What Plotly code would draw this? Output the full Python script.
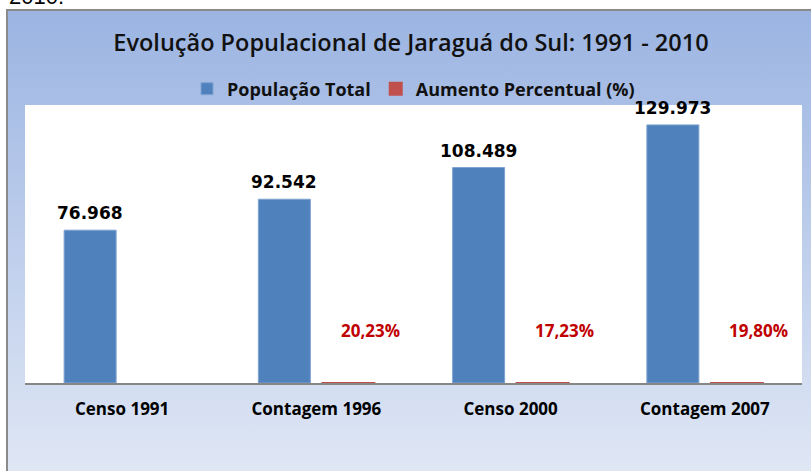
import base64
import plotly.graph_objects as go

# ---- data ----
categories = ["Censo 1991", "Contagem 1996", "Censo 2000", "Contagem 2007"]
populacao_total = [76968, 92542, 108489, 129973]
aumento_percentual = [None, 20.23, 17.23, 19.80]
series_names = ["População Total", "Aumento Percentual (%)"]
title_text = "Evolução Populacional de Jaraguá do Sul: 1991 - 2010"
caption_above = "2010."

W, H = 811, 471
ML, MR, MT, MB = 25, 9, 105, 88
PW, PH = W - ML - MR, H - MT - MB


def px_x(x):
    return (x - ML) / PW


def px_y(y):
    return (H - MB - y) / PH


BLUE = "#4f81bd"
RED = "#c0504d"

fig = go.Figure()
fig.add_trace(go.Bar(
    name=series_names[0], x=categories, y=populacao_total,
    marker=dict(color=BLUE, line=dict(color="#7fa3d1", width=1)),
))
fig.add_trace(go.Bar(
    name=series_names[1], x=categories, y=aumento_percentual,
    marker=dict(color=RED, line=dict(color=RED, width=2)),
))

# blue value labels
for cat, v in zip(categories, populacao_total):
    fig.add_annotation(
        x=cat, y=v, xref="x", yref="y", text=f"{v:,}".replace(",", "."),
        showarrow=False, xshift=-32, yshift=17, yanchor="middle",
        font=dict(family="DejaVu Sans", size=17, color="#000000", weight="bold"),
    )

# red percentage labels
for cat, v in zip(categories, aumento_percentual):
    if v is None:
        continue
    fig.add_annotation(
        x=cat, y=0, xref="x", yref="y", text=f"{v:.2f}".replace(".", ",") + "%",
        showarrow=False, xshift=54, yshift=53, yanchor="middle",
        font=dict(family="Open Sans", size=17, color="#c00000", weight="bold"),
    )

# caption fragment above the chart frame
fig.add_annotation(
    x=px_x(7), y=px_y(-4), xref="paper", yref="paper", text=caption_above,
    showarrow=False, xanchor="left", yanchor="middle",
    font=dict(family="Liberation Sans", size=22, color="#000000"),
)

# gradient chart background
svg = ('<svg xmlns="http://www.w3.org/2000/svg" width="100" height="100" preserveAspectRatio="none">'
       '<defs><linearGradient id="g" x1="0" y1="0" x2="0" y2="1">'
       '<stop offset="0" stop-color="#9bb4e2"/><stop offset="1" stop-color="#e1e8f5"/>'
       '</linearGradient></defs><rect width="100" height="100" fill="url(#g)"/></svg>')
src = "data:image/svg+xml;base64," + base64.b64encode(svg.encode()).decode()
fig.add_layout_image(
    source=src, xref="paper", yref="paper", x=px_x(7), y=px_y(10),
    sizex=(W + 10 - 7) / PW, sizey=(H + 10 - 10) / PH,
    xanchor="left", yanchor="top", sizing="stretch", layer="below",
)
# white plot area
fig.add_shape(type="rect", xref="paper", yref="paper", x0=0, x1=1, y0=0, y1=1,
              fillcolor="white", line=dict(width=0), layer="below")
# chart frame
fig.add_shape(type="rect", xref="paper", yref="paper",
              x0=px_x(7), x1=px_x(W + 20), y0=px_y(10), y1=px_y(H + 20),
              fillcolor="rgba(0,0,0,0)", line=dict(color="#8a8a8a", width=2), layer="above")

fig.update_layout(
    width=W, height=H,
    margin=dict(l=ML, r=MR, t=MT, b=MB, pad=0),
    paper_bgcolor="white", plot_bgcolor="white",
    barmode="group", bargap=0.341, bargroupgap=0.1875,
    title=dict(text=title_text, x=411 / W, xref="container", xanchor="center",
               y=1 - 43 / H, yref="container", yanchor="middle",
               font=dict(family="Open Sans", size=23.5, color="#111111", weight=600)),
    legend=dict(orientation="h", x=0.5, xanchor="center", y=px_y(89), yanchor="middle",
                bgcolor="rgba(0,0,0,0)",
                font=dict(family="Open Sans", size=18, color="#111111", weight="bold"),
                traceorder="normal"),
    xaxis=dict(showline=True, linecolor="#868686", linewidth=1.5, showgrid=False,
               ticks="", ticklabelstandoff=10, fixedrange=True,
               tickfont=dict(family="Open Sans", size=17, color="#000000", weight="bold")),
    yaxis=dict(range=[0, 140000], visible=False, showgrid=False, zeroline=False, fixedrange=True),
    showlegend=True,
)

fig.write_html("out.html", config={"displayModeBar": False},
               post_script="document.body.style.margin='0';")
